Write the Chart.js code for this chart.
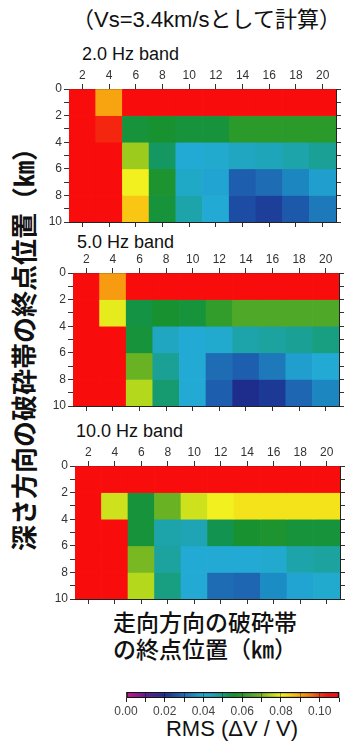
<!DOCTYPE html>
<html>
<head>
<meta charset="utf-8">
<script src="https://cdn.jsdelivr.net/npm/chart.js@4"></script>
<style>
  body { margin: 0; width: 347px; height: 742px; background: #fff; position: relative; overflow: hidden;
         font-family: "Liberation Sans", "Noto Sans CJK JP", sans-serif; color: #111; }
  .txt { position: absolute; white-space: nowrap; }
  canvas { position: absolute; }
  .jp { font-family: "Noto Sans CJK JP", sans-serif; }
</style>
</head>
<body>
<div class="txt" style="left:72px;top:6px;font-size:22px;line-height:28px;">（Vs=3.4km/sとして計算）</div>
<div class="txt" style="left:82px;top:45px;font-size:18px;line-height:18px;">2.0 Hz band</div>
<div class="txt" style="left:77px;top:233px;font-size:18px;line-height:18px;">5.0 Hz band</div>
<div class="txt" style="left:76px;top:422px;font-size:18px;line-height:18px;">10.0 Hz band</div>
<div class="txt jp" style="left:23px;top:343px;font-size:26px;line-height:30px;font-weight:700;transform:translate(-50%,-50%) rotate(-90deg);">深さ方向の破砕帯の終点位置（㎞）</div>
<div class="txt jp" style="left:113px;top:608px;font-size:23px;line-height:27px;font-weight:500;">走向方向の破砕帯<br>の終点位置（㎞）</div>
<div class="txt" style="left:232px;top:717px;font-size:22px;line-height:24px;transform:translateX(-50%);">RMS (ΔV / V)</div>

<canvas id="c1" width="347" height="178" style="left:0;top:59px"></canvas>
<canvas id="c2" width="347" height="178" style="left:0;top:243px"></canvas>
<canvas id="c3" width="347" height="178" style="left:0;top:436px"></canvas>
<canvas id="cbar" width="247" height="32" style="left:100px;top:686px"></canvas>

<script>
// 走向方向の終点位置 (km) と 深さ方向のビン (km)
const strikeKm = [2, 4, 6, 8, 10, 12, 14, 16, 18, 20];
const depthEdges = [0, 2, 4, 6, 8, 10];

// RMS(ΔV/V) 行 = 深さ 0-2, 2-4, 4-6, 6-8, 8-10 km
const rms2Hz = [
  [0.110, 0.090, 0.110, 0.110, 0.110, 0.110, 0.110, 0.110, 0.110, 0.110],
  [0.110, 0.102, 0.055, 0.056, 0.055, 0.055, 0.060, 0.060, 0.060, 0.060],
  [0.110, 0.110, 0.073, 0.052, 0.040, 0.041, 0.043, 0.044, 0.046, 0.048],
  [0.110, 0.110, 0.080, 0.057, 0.042, 0.039, 0.028, 0.030, 0.034, 0.038],
  [0.110, 0.110, 0.086, 0.055, 0.046, 0.040, 0.025, 0.023, 0.027, 0.032]
];
const rms5Hz = [
  [0.110, 0.091, 0.110, 0.110, 0.110, 0.110, 0.110, 0.110, 0.110, 0.110],
  [0.110, 0.079, 0.054, 0.056, 0.055, 0.061, 0.065, 0.065, 0.065, 0.065],
  [0.110, 0.110, 0.055, 0.043, 0.040, 0.041, 0.046, 0.047, 0.048, 0.050],
  [0.110, 0.110, 0.068, 0.048, 0.040, 0.030, 0.028, 0.032, 0.038, 0.040],
  [0.110, 0.110, 0.075, 0.051, 0.040, 0.028, 0.020, 0.022, 0.029, 0.034]
];
const rms10Hz = [
  [0.110, 0.110, 0.110, 0.110, 0.110, 0.110, 0.110, 0.110, 0.110, 0.110],
  [0.110, 0.077, 0.055, 0.068, 0.077, 0.080, 0.082, 0.082, 0.082, 0.082],
  [0.110, 0.110, 0.055, 0.046, 0.045, 0.053, 0.056, 0.057, 0.055, 0.055],
  [0.110, 0.110, 0.070, 0.047, 0.040, 0.040, 0.040, 0.041, 0.046, 0.047],
  [0.110, 0.110, 0.075, 0.050, 0.040, 0.030, 0.029, 0.035, 0.039, 0.041]
];

// カラーバーの目盛 (0.00 - 0.10, 0.01刻みの区切り)
const cbarMin = 0, cbarMax = 0.11;
const cbarLabels = ['0.00', '0.02', '0.04', '0.06', '0.08', '0.10'];

// カラーマップ (値, RGB)
const cmapStops = [
  [0.000, [212, 20, 140]], [0.010, [100, 24, 150]], [0.020, [30, 44, 140]],
  [0.025, [28, 76, 164]],  [0.030, [30, 108, 180]], [0.035, [28, 140, 196]],
  [0.040, [34, 170, 212]], [0.045, [30, 164, 180]], [0.050, [24, 158, 128]],
  [0.053, [18, 148, 80]],  [0.056, [24, 146, 48]],  [0.060, [42, 154, 42]],
  [0.065, [80, 168, 40]],  [0.070, [120, 184, 34]], [0.075, [180, 216, 28]],
  [0.080, [242, 240, 30]], [0.085, [248, 206, 20]], [0.090, [248, 164, 16]],
  [0.095, [242, 120, 16]], [0.100, [240, 60, 16]],  [0.104, [248, 16, 16]],
  [0.110, [248, 12, 12]]
];

function rmsColor(v) {
  if (v <= cmapStops[0][0]) return rgb(cmapStops[0][1]);
  for (let i = 1; i < cmapStops.length; i++) {
    const [v1, c1] = cmapStops[i];
    if (v <= v1) {
      const [v0, c0] = cmapStops[i - 1];
      const t = (v - v0) / (v1 - v0);
      return rgb(c0.map((c, k) => c + (c1[k] - c) * t));
    }
  }
  return rgb(cmapStops[cmapStops.length - 1][1]);
}
function rgb(c) { return 'rgb(' + c.map(Math.round).join(',') + ')'; }

Chart.defaults.font.family = '"Liberation Sans", Arial, sans-serif';
Chart.defaults.animation = false;

// パネルごとの描画範囲 [左, 右] (px)
function heatmap(canvasId, rows, left, right) {
  const ctx = document.getElementById(canvasId).getContext('2d');
  const tickGrid = { drawOnChartArea: false, tickLength: 5, tickColor: '#333', offset: false };
  const axisBorder = { display: true, color: '#222', width: 1 };

  const datasets = rows.map((vals, r) => ({
    data: strikeKm.map(() => [depthEdges[r], depthEdges[r + 1]]),
    backgroundColor: vals.map(rmsColor),
    borderWidth: 0,
    barPercentage: 1,
    categoryPercentage: 1,
    grouped: false
  }));

  return new Chart(ctx, {
    type: 'bar',
    data: { labels: strikeKm.map(String), datasets: datasets },
    options: {
      responsive: false,
      devicePixelRatio: 1,
      layout: { padding: 0 },
      plugins: { legend: { display: false }, tooltip: { enabled: false } },
      scales: {
        x: {
          type: 'category', position: 'top', offset: true,
          grid: tickGrid, border: axisBorder,
          ticks: { color: '#333', font: { size: 12 }, padding: 1, maxRotation: 0, autoSkip: false },
          afterFit: s => { s.height = 30; }
        },
        xb: {
          type: 'category', position: 'bottom', offset: true,
          grid: tickGrid, border: axisBorder,
          ticks: { callback: () => '', autoSkip: false },
          afterFit: s => { s.height = 15; }
        },
        y: {
          type: 'linear', position: 'left', reverse: true, min: 0, max: 10,
          grid: tickGrid, border: axisBorder,
          ticks: { stepSize: 1, autoSkip: false, color: '#333', font: { size: 12 }, padding: 2,
                   callback: v => (v % 2 === 0 ? v : '') },
          afterFit: s => { s.width = left; }
        },
        yr: {
          type: 'linear', position: 'right', reverse: true, min: 0, max: 10,
          grid: tickGrid, border: axisBorder,
          ticks: { stepSize: 1, autoSkip: false, callback: () => '' },
          afterFit: s => { s.width = 347 - right; }
        }
      }
    }
  });
}

heatmap('c1', rms2Hz, 69, 336);
heatmap('c2', rms5Hz, 73, 339);
heatmap('c3', rms10Hz, 75, 340);

// カラーバー
new Chart(document.getElementById('cbar').getContext('2d'), {
  type: 'bar',
  data: {
    labels: ['rms'],
    datasets: [{
      data: [[cbarMin, cbarMax]],
      backgroundColor: (c) => {
        const chart = c.chart;
        if (!chart.chartArea) return '#f00';
        const xs = chart.scales.x;
        const g = chart.ctx.createLinearGradient(xs.getPixelForValue(cbarMin), 0, xs.getPixelForValue(cbarMax), 0);
        cmapStops.forEach(([v, col]) => g.addColorStop((v - cbarMin) / (cbarMax - cbarMin), rgb(col)));
        return g;
      },
      borderColor: '#111',
      borderWidth: 1.5,
      borderSkipped: false,
      barPercentage: 1,
      categoryPercentage: 1
    }]
  },
  options: {
    indexAxis: 'y',
    responsive: false,
    devicePixelRatio: 1,
    layout: { padding: { left: 26, right: 8, top: 6 } },
    plugins: { legend: { display: false }, tooltip: { enabled: false } },
    scales: {
      x: {
        type: 'linear', min: cbarMin, max: cbarMax,
        grid: { drawOnChartArea: true, z: 1, color: 'rgba(0,0,0,0.35)', tickColor: '#222', tickLength: 4 },
        border: { display: false },
        ticks: {
          stepSize: 0.01, autoSkip: false, maxRotation: 0, color: '#444', font: { size: 12 }, padding: 2,
          callback: (v) => {
            const i = Math.round(v * 100);
            return i % 2 === 0 ? cbarLabels[i / 2] : '';
          }
        },
        afterFit: s => { s.height = 20; }
      },
      y: {
        display: false
      }
    }
  }
});
</script>
</body>
</html>
